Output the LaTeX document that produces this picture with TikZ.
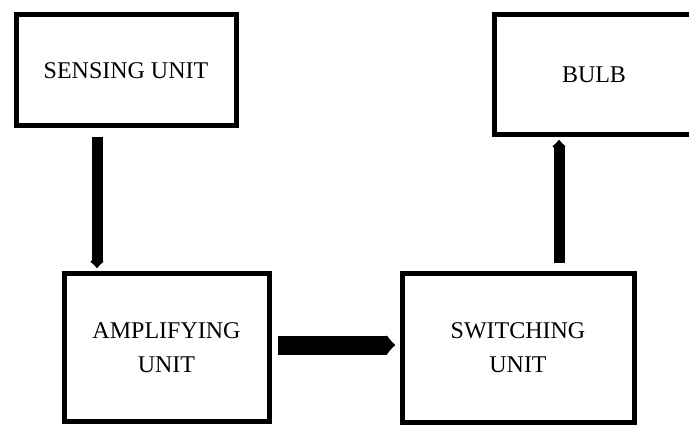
\documentclass[tikz,border=0pt]{standalone}
\usepackage{fontspec}
\setmainfont{Liberation Serif}
\usetikzlibrary{arrows.meta}

\begin{document}
\begin{tikzpicture}[x=1pt,y=-1pt,
    block/.style={draw,line width=5pt,align=center,inner sep=0pt,
      font=\fontsize{24}{34}\selectfont},
    flow/.style={line width=11pt,-{Latex[round,length=8pt,width=17pt]}},
    bigflow/.style={line width=19pt,-{Latex[round,length=10pt,width=25pt]}}]
      \useasboundingbox (0,0) rectangle (689,425);
      \clip (0,0) rectangle (689,425);
      \draw
        (126,70.5) node[block,minimum width=220pt,minimum height=111pt] (sense){SENSING UNIT}
        (594,75) node[block,minimum width=200pt,minimum height=120pt] (bulb){BULB}
        (166.5,347.5) node[block,minimum width=205pt,minimum height=147pt] (amp){AMPLIFYING\\UNIT}
        (518,348) node[block,minimum width=232pt,minimum height=148pt] (switch){SWITCHING\\UNIT};
      \begin{scope}
        \draw[flow] ([xshift=-29pt,yshift=-8.5pt]sense.south) to ([xshift=-69.5pt,yshift=3.5pt]amp.north);
        \draw[bigflow] ([xshift=6.5pt,yshift=2.5pt]amp.east) to ([xshift=-4.5pt,yshift=3pt]switch.west);
        \draw[flow] ([xshift=41pt,yshift=8.5pt]switch.north) to ([xshift=-35pt,yshift=-2.5pt]bulb.south);
      \end{scope}
    \end{tikzpicture}
\end{document}
